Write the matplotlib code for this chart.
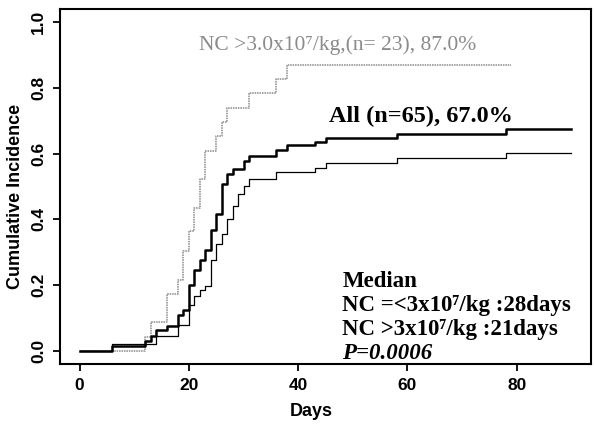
import matplotlib
matplotlib.use('Agg')
import matplotlib.pyplot as plt

# step data (day, cumulative incidence)
all_days = [0, 6, 12, 13, 14, 16, 18, 19, 20, 21, 22, 23, 24, 25, 26, 27, 28, 30, 31, 36, 38, 43, 45, 58, 78, 90]
all_vals = [0, 0.015, 0.031, 0.046, 0.062, 0.077, 0.108, 0.123, 0.200, 0.246, 0.277, 0.308, 0.369, 0.415,
            0.508, 0.538, 0.554, 0.578, 0.594, 0.611, 0.626, 0.636, 0.648, 0.659, 0.674, 0.674]

low_days = [0, 6, 14, 18, 20, 21, 22, 23, 24, 25, 26, 27, 28, 29, 30, 31, 36, 43, 45, 58, 78, 90]
low_vals = [0, 0.020, 0.045, 0.078, 0.138, 0.168, 0.185, 0.198, 0.276, 0.324, 0.355, 0.400, 0.440,
            0.476, 0.500, 0.524, 0.543, 0.556, 0.571, 0.586, 0.603, 0.603]

high_days = [0, 12, 13, 16, 18, 19, 20, 21, 22, 23, 25, 26, 27, 31, 36, 38, 79]
high_vals = [0, 0.043, 0.087, 0.174, 0.217, 0.304, 0.365, 0.435, 0.522, 0.608, 0.652, 0.697, 0.739,
             0.783, 0.826, 0.870, 0.870]

xticks = [0, 20, 40, 60, 80]
yticks = [0.0, 0.2, 0.4, 0.6, 0.8, 1.0]
ytick_labels = ['0.0', '0.2', '0.4', '0.6', '0.8', '1.0']

sans = 'Liberation Sans'
serif = ['Liberation Serif', 'DejaVu Serif']

fig = plt.figure(figsize=(5.94, 4.25), dpi=100)
ax = fig.add_axes([0.101, 0.1435, 0.894, 0.8355])

ax.step(high_days, high_vals, where='post', color='#8a8a8a', lw=1.1, linestyle=(0, (1, 0.6)))
ax.step(low_days, low_vals, where='post', color='black', lw=0.9)
ax.step(all_days, all_vals, where='post', color='black', lw=1.8)

ax.set_xlim(-3.6, 93.6)
ax.set_ylim(-0.04, 1.04)
ax.set_xticks(xticks)
ax.set_xticklabels([str(t) for t in xticks], fontfamily=sans, fontweight='bold', fontsize=12.5)
ax.set_yticks(yticks)
ax.set_yticklabels(ytick_labels, fontfamily=sans, fontweight='bold', fontsize=12.5,
                   rotation=90, va='center')
ax.tick_params(direction='out', length=5, width=1.3, pad=5)
for s in ax.spines.values():
    s.set_linewidth(1.5)

ax.set_xlabel('Days', fontfamily=sans, fontweight='bold', fontsize=13)
ax.set_ylabel('Cumulative Incidence', fontfamily=sans, fontweight='bold', fontsize=13)
ax.xaxis.set_label_coords(0.473, -0.11)
ax.yaxis.set_label_coords(-0.068, 0.473)

ax.text(21.8, 0.914, 'NC >3.0x10\u2077/kg,(n= 23), 87.0%', fontfamily=serif, fontsize=15.5,
        color='#8a8a8a', ha='left', va='baseline')
ax.text(45.7, 0.695, 'All (n=65), 67.0%', fontfamily=serif, fontsize=17.5, fontweight='bold',
        ha='left', va='baseline')

med_lines = ['Median', 'NC =<3x10\u2077/kg :28days', 'NC >3x10\u2077/kg :21days']
for i, line in enumerate(med_lines):
    ax.text(48.1, 0.193 - i * 0.0725, line, fontfamily=serif, fontsize=16.5, fontweight='bold',
            ha='left', va='baseline')
ax.text(48.1, -0.025, 'P=0.0006', fontfamily=serif, fontsize=16.5, fontweight='bold',
        fontstyle='italic', ha='left', va='baseline')

fig.savefig('out.png', dpi=100)
